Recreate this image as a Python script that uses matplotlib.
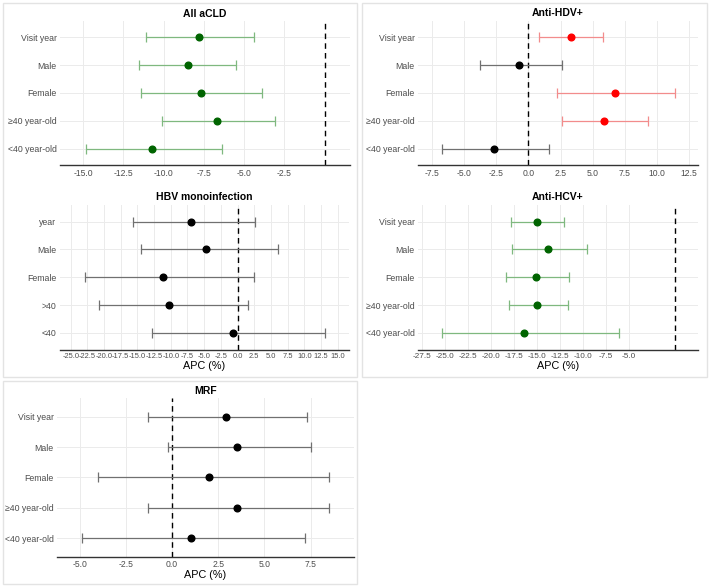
import numpy as np
import matplotlib
matplotlib.use('Agg')
import matplotlib.pyplot as plt
from matplotlib.patches import Rectangle

plt.rcParams['font.family'] = ['Liberation Sans', 'DejaVu Sans']

# --- data (APC %, estimate with 95% CI), rows top -> bottom ---
labels_main = ["Visit year", "Male", "Female", "≥40 year-old", "<40 year-old"]
labels_hbv = ["year", "Male", "Female", ">40", "<40"]

acld_est = [-7.8, -8.5, -7.7, -6.7, -10.7]
acld_low = [-11.1, -11.5, -11.4, -10.1, -14.8]
acld_high = [-4.4, -5.5, -3.9, -3.1, -6.4]

hdv_est = [3.3, -0.7, 6.7, 5.9, -2.7]
hdv_low = [0.85, -3.8, 2.25, 2.6, -6.7]
hdv_high = [5.8, 2.6, 11.4, 9.3, 1.6]
hdv_signif = [True, False, True, True, False]

hbv_est = [-7.0, -4.8, -11.2, -10.3, -0.7]
hbv_low = [-15.6, -14.4, -22.8, -20.7, -12.8]
hbv_high = [2.6, 6.0, 2.4, 1.5, 13.1]

hcv_est = [-15.0, -13.8, -15.1, -15.0, -16.4]
hcv_low = [-17.8, -17.7, -18.4, -18.1, -25.3]
hcv_high = [-12.1, -9.6, -11.5, -11.7, -6.1]

mrf_est = [2.9, 3.5, 2.0, 3.5, 1.0]
mrf_low = [-1.3, -0.2, -4.0, -1.3, -4.9]
mrf_high = [7.3, 7.5, 8.5, 8.5, 7.2]

acld_ticks = [-15.0, -12.5, -10.0, -7.5, -5.0, -2.5]
hdv_ticks = [-7.5, -5.0, -2.5, 0.0, 2.5, 5.0, 7.5, 10.0, 12.5]
hbv_ticks = [-25.0, -22.5, -20.0, -17.5, -15.0, -12.5, -10.0, -7.5, -5.0, -2.5,
             0.0, 2.5, 5.0, 7.5, 10.0, 12.5, 15.0]
hcv_ticks = [-27.5, -25.0, -22.5, -20.0, -17.5, -15.0, -12.5, -10.0, -7.5, -5.0]
mrf_ticks = [-5.0, -2.5, 0.0, 2.5, 5.0, 7.5]

W, H = 709, 586
fig = plt.figure(figsize=(W / 100, H / 100), dpi=100)

GREEN, GREEN_BAR = '#006400', '#7fb87f'
RED, RED_BAR = '#ff0000', '#f28c8c'
BLACK, BLACK_BAR = '#000000', '#707070'
TXT = '#4d4d4d'


def px_axes(x0, x1, ytop, ybot):
    return fig.add_axes([x0 / W, 1 - ybot / H, (x1 - x0) / W, (ybot - ytop) / H])


def forest(ax, title, title_y, labels, est, low, high, ticks, xlim, colors,
           xlabel=False, tick_size=6.2):
    n = len(labels)
    ypos = np.arange(n, 0, -1)
    for y, e, lo, hi, (pc, bc) in zip(ypos, est, low, high, colors):
        ax.errorbar([e], [y], xerr=[[e - lo], [hi - e]], fmt='none', ecolor=bc,
                    elinewidth=0.9, capsize=3.6, capthick=0.9, zorder=2)
        ax.plot([e], [y], 'o', color=pc, ms=4.8, zorder=3)
    ax.axvline(0, color='black', lw=1.0, ls=(0, (4, 3)), zorder=1)
    ax.set_xlim(*xlim)
    ax.set_ylim(0.4, n + 0.6)
    ax.set_yticks(ypos)
    ax.set_yticklabels(labels)
    ax.set_xticks(ticks)
    ax.set_xticklabels([f'{t:.1f}' for t in ticks])
    ax.tick_params(axis='both', length=0, labelsize=6.3, colors=TXT)
    ax.tick_params(axis='x', pad=2.5, labelsize=tick_size)
    ax.tick_params(axis='y', pad=2.5)
    ax.grid(True, color='#ebebeb', lw=0.7)
    ax.set_axisbelow(True)
    for s in ['top', 'right', 'left']:
        ax.spines[s].set_visible(False)
    ax.spines['bottom'].set_color('#333333')
    ax.spines['bottom'].set_linewidth(1.0)
    ax.patch.set_alpha(0)
    bb = ax.get_position()
    fig.text((bb.x0 + bb.x1) / 2, 1 - title_y / H, title, ha='center', va='center',
             fontsize=7.5, fontweight='bold')
    if xlabel:
        ax.set_xlabel('APC (%)', fontsize=7.8, color='black', labelpad=1)


# panel frames
for (x0, y0, x1, y1) in [(3, 3, 357, 377), (362, 3, 707, 377), (3, 381, 357, 584)]:
    fig.patches.append(Rectangle((x0 / W, 1 - y1 / H), (x1 - x0) / W, (y1 - y0) / H,
                                 transform=fig.transFigure, fill=False,
                                 edgecolor='#e3e3e3', lw=1.0))

green = [(GREEN, GREEN_BAR)] * 5
black = [(BLACK, BLACK_BAR)] * 5
hdv_cols = [(RED, RED_BAR) if s else (BLACK, BLACK_BAR) for s in hdv_signif]

ax1 = px_axes(60, 350, 20.6, 165.2)
forest(ax1, 'All aCLD', 13.7, labels_main, acld_est, acld_low, acld_high,
       acld_ticks, (-16.43, 1.58), green)

ax2 = px_axes(418, 698, 20.6, 165.2)
forest(ax2, 'Anti-HDV+', 12.7, labels_main, hdv_est, hdv_low, hdv_high,
       hdv_ticks, (-8.6, 13.2), hdv_cols)

ax3 = px_axes(60, 349, 205, 349.5)
forest(ax3, 'HBV monoinfection', 196.7, labels_hbv, hbv_est, hbv_low, hbv_high,
       hbv_ticks, (-26.6, 16.7), black, xlabel=True, tick_size=5.4)

ax4 = px_axes(418, 698, 205, 349.5)
forest(ax4, 'Anti-HCV+', 197.3, labels_main, hcv_est, hcv_low, hcv_high,
       hcv_ticks, (-27.96, 2.48), green, xlabel=True, tick_size=5.9)

ax5 = px_axes(57, 354, 398.4, 556.5)
forest(ax5, 'MRF', 390.7, labels_main, mrf_est, mrf_low, mrf_high,
       mrf_ticks, (-6.23, 9.85), black, xlabel=True)

fig.savefig('out.png', dpi=100)
